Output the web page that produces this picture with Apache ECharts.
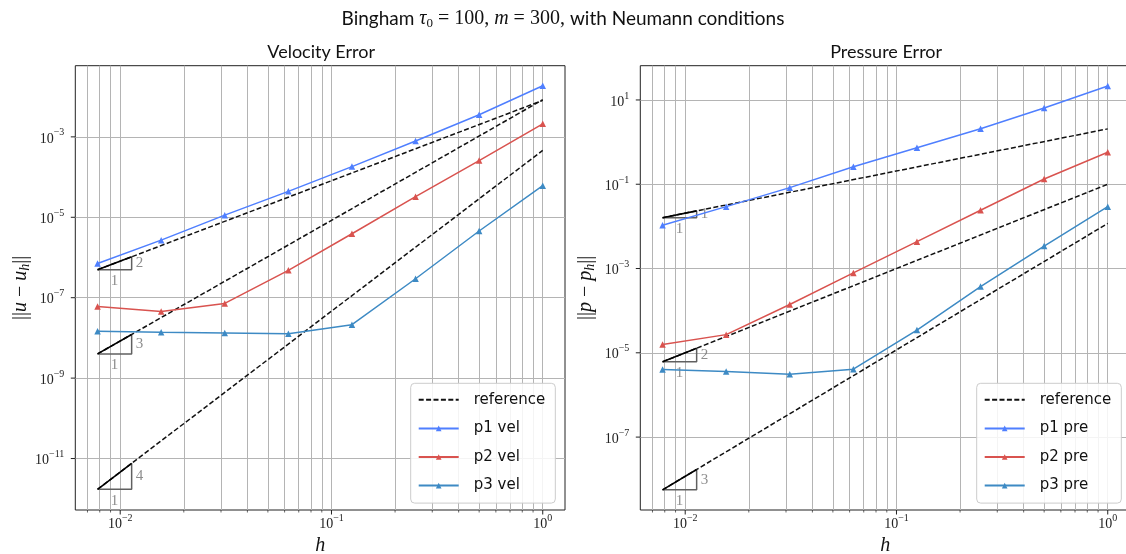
<!DOCTYPE html>
<html>
<head>
<meta charset="utf-8">
<script src="https://cdn.jsdelivr.net/npm/echarts@6/dist/echarts.min.js"></script>
<style>
  html, body { margin: 0; padding: 0; background: #ffffff; }
  #chart { width: 1126px; height: 554px; }
</style>
</head>
<body>
<div id="chart"></div>
<script>
// Mesh sizes h = 1/128 ... 1
const meshSizes = [0.0078125, 0.015625, 0.03125, 0.0625, 0.125, 0.25, 0.5, 1];

// Velocity errors ||u - u_h||
const velP1 = [7.1e-7, 2.7e-6, 1.13e-5, 4.42e-5, 1.82e-4, 7.9e-4, 3.54e-3, 1.87e-2];
const velP2 = [6.0e-8, 4.55e-8, 7.2e-8, 4.8e-7, 3.9e-6, 3.25e-5, 2.57e-4, 2.11e-3];
const velP3 = [1.46e-8, 1.38e-8, 1.33e-8, 1.27e-8, 2.13e-8, 2.96e-7, 4.56e-6, 6.1e-5];

// Pressure errors ||p - p_h||
const preP1 = [0.0106, 0.0294, 0.083, 0.26, 0.736, 2.08, 6.46, 21.5];
const preP2 = [1.57e-5, 2.7e-5, 1.4e-4, 7.86e-4, 4.34e-3, 0.0241, 0.133, 0.573];
const preP3 = [4.0e-6, 3.6e-6, 3.12e-6, 4.1e-6, 3.46e-5, 3.73e-4, 3.42e-3, 0.0294];

// Reference slopes: convergence order, value at the finest h, value at h = 1
const velRefOrders = [2, 3, 4];
const velRefFine = [4.95e-7, 4.0e-9, 1.72e-12];
const velRefCoarse = [8.1e-3, 8.39e-3, 4.61e-4];

const preRefOrders = [1, 2, 3];
const preRefFine = [0.0161, 6.1e-6, 5.6e-9];
const preRefCoarse = [2.06, 0.0999, 0.01174];

// Tick labels
const xTickValues = [0.01, 0.1, 1];
const velYTickExps = [-11, -9, -7, -5, -3];
const preYTickExps = [-7, -5, -3, -1, 1];
const velNames = ['p1 vel', 'p2 vel', 'p3 vel'];
const preNames = ['p1 pre', 'p2 pre', 'p3 pre'];

const SERIF = 'Liberation Serif';
const SANS = 'Lato';
const LEGEND_FONT = 'DejaVu Sans';
const lineColors = ['#4f7fff', '#d9534f', '#3d8ac4'];
const gridColor = '#b4b4b4';
const slopeWidth = 1.45;   // horizontal extent of the slope triangles (ratio in h)

const xMin = Math.pow(2, -7.35);
const xMax = Math.pow(2, 0.35);

const panels = [
  {
    title: 'Velocity Error', sym: 'u', names: velNames,
    values: [velP1, velP2, velP3],
    refOrders: velRefOrders, refFine: velRefFine, refCoarse: velRefCoarse,
    yExps: velYTickExps, yMin: Math.pow(10, -12.28), yMax: Math.pow(10, -1.23),
    left: 75.3, legendLeft: 410.7
  },
  {
    title: 'Pressure Error', sym: 'p', names: preNames,
    values: [preP1, preP2, preP3],
    refOrders: preRefOrders, refFine: preRefFine, refCoarse: preRefCoarse,
    yExps: preYTickExps, yMin: Math.pow(10, -8.73), yMax: Math.pow(10, 1.813),
    left: 640.3, legendLeft: 976.7
  }
];
const gridTop = 65.7, gridWidth = 489.7, gridHeight = 444.3;

function expOf(v) { return Math.round(Math.log10(v)); }
function isDecade(v) { return Math.abs(Math.log10(v) - expOf(v)) < 1e-6; }
function powLabel(e) { return '{b|10}{s|' + (e < 0 ? '\u2212' + (-e) : String(e)) + '}'; }

const tickRich = {
  b: { fontFamily: SERIF, fontSize: 14, lineHeight: 18, color: '#222', verticalAlign: 'bottom' },
  s: { fontFamily: SERIF, fontSize: 10, lineHeight: 10, color: '#222', verticalAlign: 'top' }
};

// vertical grid positions: every 1..9 x 10^k inside the x range
function xGridValues() {
  const out = [];
  for (let k = -3; k <= 0; k++) {
    for (let m = 1; m <= 9; m++) {
      const v = m * Math.pow(10, k);
      if (v > xMin && v < xMax) out.push(v);
    }
  }
  return out;
}

const chart = echarts.init(document.getElementById('chart'), null, { renderer: 'canvas' });

const grids = [], xAxes = [], yAxes = [], series = [], legends = [], titles = [];

const supStyle = { color: '#111', lineHeight: 22, fontWeight: 'normal', verticalAlign: 'middle' };
titles.push({
  left: 'center', top: 3,
  text: '{s|Bingham }{mi|\u03c4}{sub|0}{m| = 100, }{mi|m}{m| = 300, }{s|with Neumann conditions}',
  textStyle: {
    fontWeight: 'normal',
    rich: {
      s: Object.assign({ fontFamily: SANS, fontSize: 19 }, supStyle),
      m: Object.assign({ fontFamily: SERIF, fontSize: 20 }, supStyle),
      mi: Object.assign({ fontFamily: SERIF, fontStyle: 'italic', fontSize: 20 }, supStyle),
      sub: { fontFamily: SERIF, fontSize: 13, color: '#111', fontWeight: 'normal', lineHeight: 12, verticalAlign: 'bottom' }
    }
  }
});

panels.forEach((pn, g) => {
  grids.push({ left: pn.left, top: gridTop, width: gridWidth, height: gridHeight,
               outerBoundsMode: 'none', containLabel: false,
               show: true, borderColor: '#222', borderWidth: 1, backgroundColor: 'transparent' });

  titles.push({
    text: pn.title, left: pn.left + gridWidth / 2 - 4, top: 38, textAlign: 'center',
    textStyle: { fontFamily: SANS, fontSize: 18, fontWeight: 'normal', color: '#111' }
  });

  xAxes.push({
    type: 'log', logBase: 10, gridIndex: g, min: xMin, max: xMax,
    axisLine: { show: false }, axisTick: { show: false }, splitLine: { show: false },
    axisLabel: {
      margin: 3, showMinLabel: false, showMaxLabel: false,
      formatter: v => (isDecade(v) ? powLabel(expOf(v)) : ''),
      rich: tickRich
    },
    name: 'h', nameLocation: 'middle', nameGap: 21,
    nameTextStyle: { fontFamily: SERIF, fontStyle: 'italic', fontSize: 20, color: '#111' }
  });

  yAxes.push({
    type: 'log', logBase: 10, gridIndex: g, min: pn.yMin, max: pn.yMax,
    axisLine: { show: false }, axisTick: { show: false }, splitLine: { show: false },
    axisLabel: { show: false },
    name: '{bar|||}{mi|' + pn.sym + '}{m| \u2212 }{mi|' + pn.sym + '}{sub|h}{bar|||}',
    nameLocation: 'middle', nameGap: 43, nameRotate: 90,
    nameTextStyle: {
      rich: {
        bar: { fontFamily: SERIF, fontSize: 20, color: '#111', lineHeight: 24, verticalAlign: 'middle' },
        m: { fontFamily: SERIF, fontSize: 20, color: '#111', lineHeight: 24, verticalAlign: 'middle' },
        mi: { fontFamily: SERIF, fontStyle: 'italic', fontSize: 20, color: '#111', lineHeight: 24, verticalAlign: 'middle' },
        sub: { fontFamily: SERIF, fontStyle: 'italic', fontSize: 14, color: '#111', lineHeight: 14, verticalAlign: 'bottom' }
      }
    }
  });

  // reference lines (first one also carries the grid lines and y tick labels)
  const h0 = meshSizes[0], hN = meshSizes[meshSizes.length - 1];
  pn.refOrders.forEach((p, i) => {
    const s = {
      type: 'line', name: 'reference', xAxisIndex: g, yAxisIndex: g,
      data: [[h0, pn.refFine[i]], [hN, pn.refCoarse[i]]],
      symbol: 'none', silent: true, z: 3,
      itemStyle: { color: '#222' },
      lineStyle: { color: '#111', width: 1.5, type: [5, 2.4] }
    };
    if (i === 0) {
      s.markLine = {
        z: 1, silent: true, symbol: 'none', animation: false, precision: 15,
        label: { show: false },
        emphasis: { disabled: true },
        lineStyle: { color: gridColor, width: 1, type: 'solid' },
        data: xGridValues().map(v => ({ xAxis: v }))
          .concat(pn.yExps.map(e => ({
            yAxis: Math.pow(10, e),
            label: { show: true, position: 'start', distance: 11, formatter: powLabel(e), rich: tickRich }
          })))
      };
    }
    series.push(s);

    // slope triangle: gray legs, black hypotenuse
    const h1 = h0 * slopeWidth;
    const y0 = pn.refFine[i];
    const y1 = y0 * Math.pow(slopeWidth, p);
    series.push({
      type: 'line', name: 'slope legs ' + g + i, xAxisIndex: g, yAxisIndex: g,
      data: [[h0, y0], [h1, y0], [h1, y1]], symbol: 'none', silent: true, z: 3,
      lineStyle: { color: '#606060', width: 1.5 }
    });
    series.push({
      type: 'line', name: 'slope hyp ' + g + i, xAxisIndex: g, yAxisIndex: g,
      data: [[h0, y0], [h1, y1]], symbol: 'none', silent: true, z: 3,
      lineStyle: { color: '#000', width: 1.6 }
    });
    series.push({
      type: 'scatter', name: 'slope text ' + g + i, xAxisIndex: g, yAxisIndex: g,
      symbolSize: 0, silent: true, z: 3,
      data: [
        { value: [Math.sqrt(h0 * h1), y0], label: { show: true, position: 'bottom', distance: 4, formatter: '1' } },
        { value: [h1, Math.sqrt(y0 * y1)], label: { show: true, position: 'right', distance: 4, formatter: String(p) } }
      ],
      label: { fontFamily: SERIF, fontSize: 15, color: '#707070' }
    });
  });

  // computed errors
  pn.values.forEach((vals, i) => {
    series.push({
      type: 'line', name: pn.names[i], xAxisIndex: g, yAxisIndex: g,
      data: meshSizes.map((h, k) => [h, vals[k]]),
      symbol: 'triangle', symbolSize: 6.5, z: 4,
      itemStyle: { color: lineColors[i] },
      lineStyle: { color: lineColors[i], width: 1.5 }
    });
  });

  legends.push({
    data: [{ name: 'reference', itemStyle: { opacity: 0 } }].concat(pn.names),
    orient: 'vertical', left: pn.legendLeft, top: 383.3,
    itemWidth: 40, itemHeight: 7, itemGap: 13.6,
    padding: [9, 10, 10, 7],
    backgroundColor: 'rgba(255,255,255,0.85)', borderColor: '#cccccc', borderWidth: 1, borderRadius: 4,
    selectedMode: false,
    textStyle: { fontFamily: LEGEND_FONT, fontSize: 15, color: '#111', lineHeight: 14, padding: [0, 0, 0, 10] }
  });
});

chart.setOption({
  animation: false,
  backgroundColor: '#ffffff',
  title: titles,
  grid: grids,
  xAxis: xAxes,
  yAxis: yAxes,
  legend: legends,
  series: series
});

// axis tick marks, placed through the axes' own conversions
const tickShapes = [];
panels.forEach((pn, g) => {
  const left = chart.convertToPixel({ xAxisIndex: g }, xMin);
  const bottom = chart.convertToPixel({ yAxisIndex: g }, pn.yMin);
  xGridValues().forEach(v => {
    const x = chart.convertToPixel({ xAxisIndex: g }, v);
    const major = isDecade(v);
    tickShapes.push({
      type: 'line', silent: true, z: 10,
      shape: { x1: x, y1: bottom, x2: x, y2: bottom + (major ? 4.5 : 2.5) },
      style: { stroke: '#222', lineWidth: major ? 1 : 0.7 }
    });
  });
  pn.yExps.forEach(e => {
    const y = chart.convertToPixel({ yAxisIndex: g }, Math.pow(10, e));
    tickShapes.push({
      type: 'line', silent: true, z: 10,
      shape: { x1: left - 4.5, y1: y, x2: left, y2: y },
      style: { stroke: '#222', lineWidth: 1 }
    });
  });
});
chart.setOption({ graphic: tickShapes });
</script>
</body>
</html>
